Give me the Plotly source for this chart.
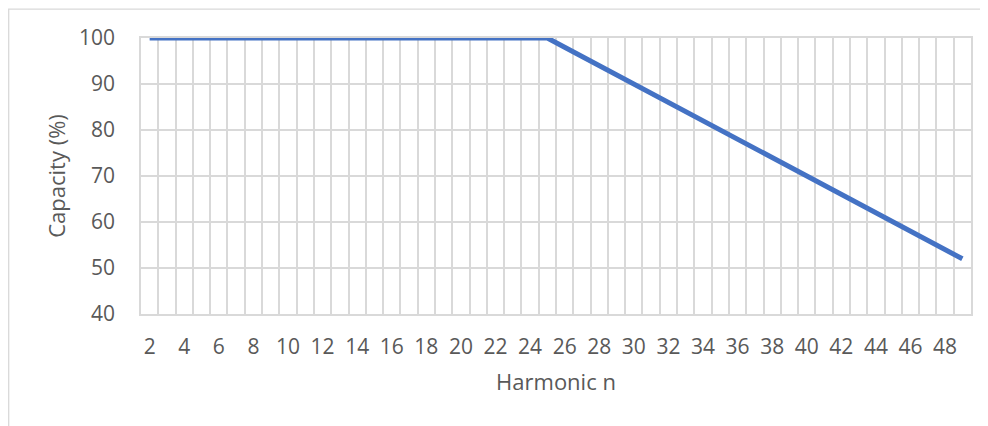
import plotly.graph_objects as go

# Data
harmonic_n = list(range(2, 50))
capacity = [100 if n <= 25 else 100 - 2 * (n - 25) for n in harmonic_n]
x_tick_vals = list(range(2, 49, 2))
x_tick_text = [str(v) for v in x_tick_vals]
y_tick_vals = [40, 50, 60, 70, 80, 90, 100]

# page has an 8px body margin; figure sized/margined to compensate
W, H = 988, 426
L, R, T, B = 133, 25, 30, 120
pw, ph = W - L - R, H - T - B

font_color = "#595959"
grid_color = "#d9d9d9"
FONT = "Open Sans"

fig = go.Figure()
fig.add_trace(go.Scatter(
    x=harmonic_n, y=capacity, mode="lines",
    line=dict(color="#4472C4", width=5),
    showlegend=False, hoverinfo="skip",
))

fig.update_layout(
    width=W, height=H,
    margin=dict(l=L, r=R, t=T, b=B),
    paper_bgcolor="white", plot_bgcolor="white",
    font=dict(family=FONT, color=font_color, size=21),
    xaxis=dict(
        range=[1.5, 49.5],
        tickmode="array", tickvals=x_tick_vals, ticktext=x_tick_text,
        showgrid=False, zeroline=False, ticks="",
        ticklabelstandoff=13,
        tickfont=dict(size=21, color=font_color),
        minor=dict(showgrid=True, tick0=1.5, dtick=1, gridcolor=grid_color, gridwidth=1.7),
        showline=True, mirror=True, linecolor=grid_color, linewidth=1.7,
        title=dict(text="Harmonic n", font=dict(size=22, color=font_color), standoff=16),
    ),
    yaxis=dict(
        range=[40, 100],
        tickmode="array", tickvals=y_tick_vals,
        showgrid=True, gridcolor=grid_color, gridwidth=1.7,
        zeroline=False, ticks="",
        ticklabelstandoff=20,
        tickfont=dict(size=21, color=font_color),
        showline=True, mirror=True, linecolor=grid_color, linewidth=1.7,
        title=dict(text="Capacity (%)", font=dict(size=22, color=font_color), standoff=7),
    ),
)

# Outer chart frame (cropped on right and bottom)
fig.add_shape(
    type="rect", xref="paper", yref="paper",
    x0=(0.7 - L) / pw, x1=(W + 40 - L) / pw,
    y0=-(H + 40 - T - ph) / ph, y1=(ph + T - 1.2) / ph,
    line=dict(color=grid_color, width=1.3), fillcolor="rgba(0,0,0,0)", layer="below",
)

fig.write_html("out.html")
